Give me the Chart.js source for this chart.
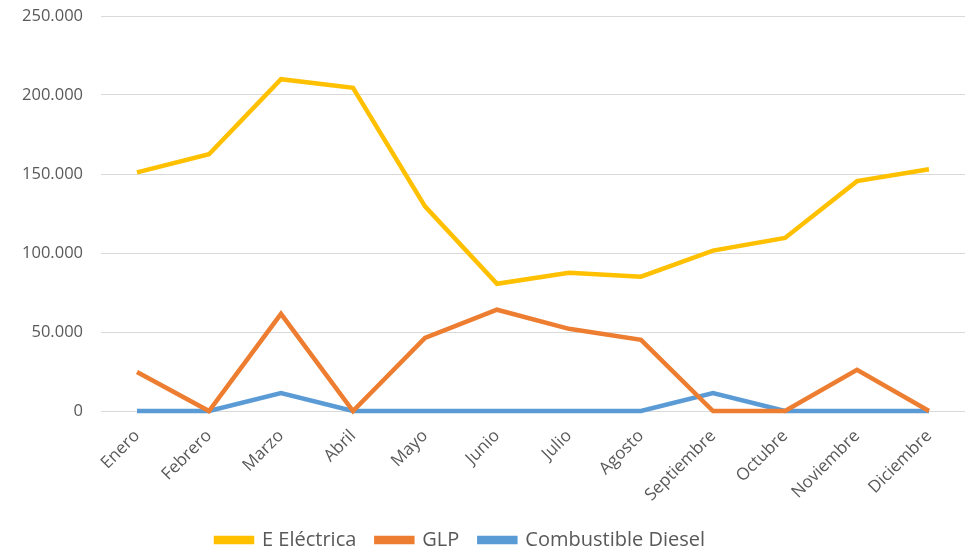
<!DOCTYPE html>
<html lang="es">
<head>
    <meta charset="UTF-8">
    <title>Consumo mensual</title>
    <script src="https://cdn.jsdelivr.net/npm/chart.js"></script>
    <style>
        html, body {
            margin: 0;
            padding: 0;
            background: #ffffff;
        }
        .chart-box {
            width: 970px;
            height: 553px;
        }
    </style>
</head>
<body>
    <div class="chart-box">
        <canvas id="consumoChart"></canvas>
    </div>

    <script>
        const meses = ['Enero', 'Febrero', 'Marzo', 'Abril', 'Mayo', 'Junio', 'Julio',
                       'Agosto', 'Septiembre', 'Octubre', 'Noviembre', 'Diciembre'];
        const electrica = [151000, 162500, 210000, 204500, 129500, 80500, 87500, 85000, 101500, 109500, 145500, 153000];
        const glp = [24700, 0, 61500, 0, 46300, 64100, 52000, 45000, 0, 0, 26000, 0];
        const diesel = [0, 0, 11400, 0, 0, 0, 0, 0, 11400, 0, 0, 0];

        const textColor = '#595959';
        const fontFamily = '"Open Sans", "Liberation Sans", sans-serif';

        function formatMiles(v) {
            return v.toString().replace(/\B(?=(\d{3})+(?!\d))/g, '.');
        }

        function serie(label, data, color) {
            return {
                label: label,
                data: data,
                borderColor: color,
                backgroundColor: color,
                borderWidth: 4.5,
                pointRadius: 0,
                tension: 0,
                fill: false,
                clip: false
            };
        }

        // the legend sits a bit left of the canvas centre in the original
        const moverLeyenda = {
            id: 'moverLeyenda',
            afterLayout(chart) {
                chart.legend.left -= 22;
                chart.legend.right -= 22;
            }
        };

        const ctx = document.getElementById('consumoChart').getContext('2d');
        new Chart(ctx, {
            type: 'line',
            data: {
                labels: meses,
                datasets: [
                    serie('E Eléctrica', electrica, '#ffc000'),
                    serie('GLP', glp, '#ed7d31'),
                    serie('Combustible Diesel', diesel, '#5b9bd5')
                ]
            },
            plugins: [moverLeyenda],
            options: {
                responsive: true,
                maintainAspectRatio: false,
                animation: false,
                layout: {
                    padding: { top: 16, right: 5, bottom: -7, left: 0 }
                },
                plugins: {
                    legend: {
                        position: 'bottom',
                        labels: {
                            color: textColor,
                            font: { family: fontFamily, size: 20 },
                            boxWidth: 36,
                            boxHeight: 4,
                            padding: 20
                        }
                    },
                    tooltip: { enabled: false }
                },
                scales: {
                    x: {
                        offset: true,
                        afterFit: function (scale) {
                            scale.height = 99;
                            scale.paddingLeft = 0;
                            scale.paddingRight = 0;
                        },
                        grid: { display: false },
                        border: { display: false },
                        ticks: {
                            color: textColor,
                            font: { family: fontFamily, size: 17 },
                            maxRotation: 45,
                            minRotation: 45,
                            padding: 7
                        }
                    },
                    y: {
                        min: 0,
                        max: 250000,
                        afterFit: function (scale) {
                            scale.width = 101;
                            scale.paddingTop = 0;
                            scale.paddingBottom = 0;
                        },
                        grid: { color: '#d9d9d9', lineWidth: 1, drawTicks: false },
                        border: { display: false },
                        ticks: {
                            stepSize: 50000,
                            color: textColor,
                            font: { family: fontFamily, size: 16.5 },
                            padding: 18,
                            callback: function (v) { return formatMiles(v); }
                        }
                    }
                }
            }
        });
    </script>
</body>
</html>
